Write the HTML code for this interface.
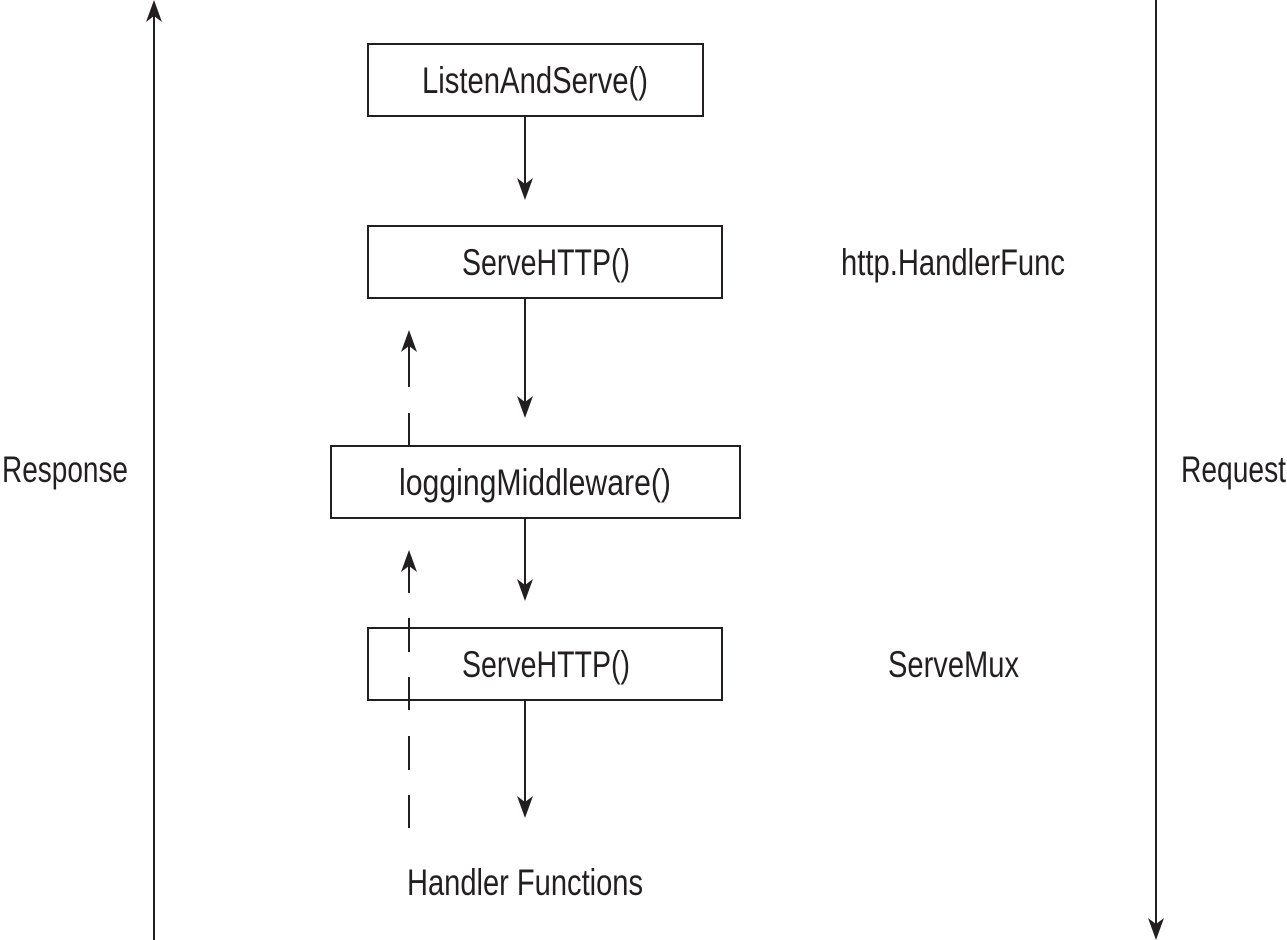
<!DOCTYPE html>
<html><head><meta charset="utf-8"><style>
html,body{margin:0;padding:0;background:#fff;}
svg{display:block;}
text{font-family:"Liberation Sans Narrow","Liberation Sans",sans-serif;font-size:37px;fill:#231f20;}
</style></head><body>
<svg width="1287" height="940" viewBox="0 0 1287 940" xmlns="http://www.w3.org/2000/svg">
<defs>
<path id="ah" d="M0,0 L-8,-22 L0,-16 L8,-22 Z" fill="#231f20"/>
</defs>
<g stroke="#231f20" stroke-width="2" fill="none">
<rect x="368" y="44" width="335" height="72"/>
<rect x="368" y="226" width="354" height="72"/>
<rect x="331" y="446" width="409" height="72"/>
<rect x="368" y="628" width="354" height="72"/>
<line x1="154" y1="940" x2="154" y2="10"/>
<line x1="1156" y1="0" x2="1156" y2="930"/>
<line x1="525" y1="116" x2="525" y2="190"/>
<line x1="525" y1="298" x2="525" y2="408"/>
<line x1="525" y1="518" x2="525" y2="591"/>
<line x1="525" y1="700" x2="525" y2="808"/>
<line x1="409" y1="446" x2="409" y2="413"/>
<line x1="409" y1="387" x2="409" y2="345"/>
<line x1="409" y1="828" x2="409" y2="795"/>
<line x1="409" y1="770" x2="409" y2="736"/>
<line x1="409" y1="710" x2="409" y2="677"/>
<line x1="409" y1="652" x2="409" y2="618"/>
<line x1="409" y1="593" x2="409" y2="565"/>
</g>
<use href="#ah" transform="translate(154,0) rotate(180)"/>
<use href="#ah" transform="translate(1156,940)"/>
<use href="#ah" transform="translate(525,200)"/>
<use href="#ah" transform="translate(525,418)"/>
<use href="#ah" transform="translate(525,601)"/>
<use href="#ah" transform="translate(525,818)"/>
<use href="#ah" transform="translate(409,330) rotate(180)"/>
<use href="#ah" transform="translate(409,550) rotate(180)"/>
<text x="422" y="93" textLength="226" lengthAdjust="spacingAndGlyphs">ListenAndServe()</text>
<text x="462" y="275" textLength="168" lengthAdjust="spacingAndGlyphs">ServeHTTP()</text>
<text x="399" y="495" textLength="272" lengthAdjust="spacingAndGlyphs">loggingMiddleware()</text>
<text x="462" y="677" textLength="168" lengthAdjust="spacingAndGlyphs">ServeHTTP()</text>
<text x="841" y="275" textLength="224" lengthAdjust="spacingAndGlyphs">http.HandlerFunc</text>
<text x="888" y="677" textLength="131" lengthAdjust="spacingAndGlyphs">ServeMux</text>
<text x="2" y="482" textLength="126" lengthAdjust="spacingAndGlyphs">Response</text>
<text x="1181" y="482" textLength="105" lengthAdjust="spacingAndGlyphs">Request</text>
<text x="407" y="895" textLength="236" lengthAdjust="spacingAndGlyphs">Handler Functions</text>
</svg>
</body></html>
